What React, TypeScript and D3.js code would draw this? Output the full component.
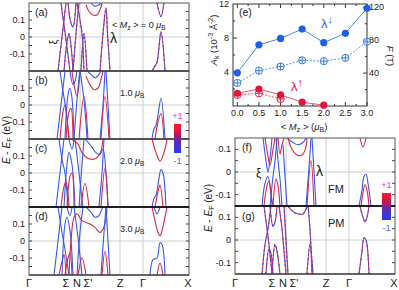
import * as d3 from "d3";

type Pt = [number, number];
type Band = { s: "u" | "d" | "m"; p: Pt[] };

const RED = "#dc2446";
const BLUE = "#3a56f0";
const FONT = "'Liberation Sans', Arial, sans-serif";

// k-path (arbitrary path units) with high-symmetry points
const kTicks = [0, 37, 48, 59, 91, 114, 159];
const kNames = ["Γ", "Σ", "N", "Σ'", "Z", "Γ", "X"];
const kGrid = [51, 91, 114];
const mzLabels = ["0", "1.0", "2.0", "3.0"];
const panelNames = ["(a)", "(b)", "(c)", "(d)"];

// (a) <Mz> = 0
const bandsA: Band[] = [
  { s: "m", p: [[29, -0.2], [33, 0], [37, 0.2]] },
  { s: "m", p: [[32, 0.2], [35, 0.07], [38, -0.06], [41, -0.2]] },
  { s: "m", p: [[35, -0.2], [38, -0.03], [40, 0.02], [42, -0.05], [44, -0.2]] },
  { s: "m", p: [[39, 0.2], [42, 0.08], [44, 0.06], [47, 0.2]] },
  { s: "m", p: [[44, -0.2], [47, 0.02], [50, 0.2]] },
  { s: "m", p: [[48, 0.2], [51, 0.1], [53, 0.02], [55, -0.2]] },
  { s: "m", p: [[52, -0.2], [55, 0.02], [58, -0.2]] },
  { s: "u", p: [[57, 0.19], [60, 0.15], [64, 0.13], [68, 0.13], [71, 0.16], [73, 0.2]] },
  { s: "d", p: [[62, 0.2], [66, 0.18], [70, 0.19], [72, 0.2]] },
  { s: "m", p: [[71, -0.2], [74, 0.02], [77, 0.17], [78.5, 0.02], [81, -0.2]] },
  { s: "m", p: [[128, 0.2], [132, 0.12], [135, 0.2]] },
  { s: "m", p: [[123, -0.2], [126, -0.17], [128, -0.15], [132, 0.03], [136, -0.2]] },
];

// (b) 1.0 uB
const bandsB: Band[] = [
  { s: "d", p: [[28, -0.2], [32, 0], [36, 0.2]] },
  { s: "d", p: [[31, 0.2], [34, 0.08], [37, -0.03], [40, -0.2]] },
  { s: "u", p: [[31, -0.2], [34, -0.04], [36, 0.0], [38, -0.08], [40, -0.2]] },
  { s: "d", p: [[36, -0.2], [39, 0.06], [41, 0.1], [43, 0.04], [45, -0.2]] },
  { s: "u", p: [[37, -0.2], [40, -0.04], [42, -0.02], [44, -0.2]] },
  { s: "d", p: [[41, 0.2], [44, 0.12], [46, 0.14], [48, 0.2]] },
  { s: "u", p: [[43, 0.2], [45, 0.12], [48, 0.05], [51, 0.2]] },
  { s: "d", p: [[45, -0.2], [49, 0.1], [51, 0.2]] },
  { s: "u", p: [[50, -0.2], [55, 0.05], [59, -0.2]] },
  { s: "d", p: [[51, 0.2], [55, 0.03], [58, -0.2]] },
  { s: "d", p: [[58, 0.2], [62, 0.18], [66, 0.16], [70, 0.18], [72, 0.2]] },
  { s: "u", p: [[57, 0.17], [61, 0.12], [65, 0.09], [69, 0.1], [72, 0.15], [74, 0.2]] },
  { s: "d", p: [[71, -0.2], [74, 0.0], [76, 0.2]] },
  { s: "d", p: [[77, 0.2], [79, 0.0], [81, -0.2]] },
  { s: "u", p: [[72, -0.2], [76, 0.05], [80, -0.2]] },
  { s: "d", p: [[123, -0.2], [125, -0.14], [127, -0.12], [129, -0.06], [132, 0.04], [136, -0.2]] },
  { s: "u", p: [[126, -0.2], [129, -0.1], [132, -0.05], [135, -0.2]] },
];

// (c) 2.0 uB
const bandsC: Band[] = [
  { s: "d", p: [[27, -0.2], [31, 0], [35, 0.2]] },
  { s: "d", p: [[30, 0.2], [33, 0.08], [36, 0.0], [39, -0.2]] },
  { s: "u", p: [[32, -0.2], [35, -0.08], [37, -0.05], [40, -0.2]] },
  { s: "d", p: [[35, -0.2], [38, 0.05], [40, 0.12], [43, 0.05], [46, -0.2]] },
  { s: "u", p: [[38, -0.2], [41, -0.02], [43, 0.0], [45, -0.2]] },
  { s: "d", p: [[40, 0.2], [43, 0.14], [45, 0.2]] },
  { s: "u", p: [[41, 0.2], [45, 0.19], [49, 0.17], [53, 0.12], [58, 0.09], [63, 0.08], [68, 0.09], [72, 0.13], [74, 0.2]] },
  { s: "d", p: [[56, 0.2], [62, 0.16], [67, 0.12], [71, 0.11], [74, 0.14], [77, 0.0], [79, -0.2]] },
  { s: "d", p: [[46, 0.2], [50, 0.0], [54, -0.2]] },
  { s: "d", p: [[50, -0.2], [53, 0.05], [55, 0.2]] },
  { s: "u", p: [[52, -0.2], [56, -0.06], [60, -0.2]] },
  { s: "u", p: [[72, -0.2], [76, 0.03], [79, -0.2]] },
  { s: "d", p: [[70, -0.2], [73, 0.0], [75, 0.2]] },
  { s: "u", p: [[123, 0.2], [127, 0.12], [131, 0.07], [135, 0.12], [138, 0.2]] },
  { s: "d", p: [[123, -0.2], [125, -0.15], [127, -0.13], [129, -0.07], [132, 0.02], [134, 0.0], [137, -0.2]] },
  { s: "u", p: [[126, -0.2], [129, -0.11], [131, -0.07], [134, -0.2]] },
];

// (d) 3.0 uB
const bandsD: Band[] = [
  { s: "d", p: [[25, -0.2], [29, 0.0], [33, 0.2]] },
  { s: "d", p: [[29, 0.2], [33, 0.05], [36, -0.05], [40, -0.2]] },
  { s: "u", p: [[30, -0.2], [33, -0.12], [35, -0.08], [37, -0.2]] },
  { s: "d", p: [[33, -0.2], [36, 0.1], [38, 0.14], [41, 0.06], [44, -0.2]] },
  { s: "u", p: [[36, -0.2], [39, -0.1], [41, -0.07], [43, -0.2]] },
  { s: "d", p: [[38, 0.2], [41, 0.15], [43, 0.2]] },
  { s: "u", p: [[40, -0.2], [42, 0.0], [45, 0.14], [48, 0.16], [53, 0.12], [61, 0.1], [66, 0.08], [71, 0.05], [74, 0.07], [77, 0.13], [78, 0.2]] },
  { s: "d", p: [[45, 0.2], [49, 0.02], [53, -0.2]] },
  { s: "d", p: [[48, -0.2], [51, 0.05], [54, 0.2]] },
  { s: "u", p: [[49, -0.2], [53, -0.1], [57, -0.2]] },
  { s: "d", p: [[57, 0.2], [62, 0.17], [66, 0.14], [70, 0.15], [73, 0.19], [74, 0.2]] },
  { s: "d", p: [[72, -0.2], [75, 0.05], [77, 0.2]] },
  { s: "d", p: [[77, 0.2], [79, 0.0], [81, -0.2]] },
  { s: "u", p: [[73, -0.2], [76, -0.06], [79, -0.2]] },
  { s: "u", p: [[123, 0.2], [126, 0.12], [129, 0.05], [131, 0.03], [133, 0.06], [136, 0.14], [138, 0.2]] },
  { s: "d", p: [[125, 0.2], [128, 0.16], [131, 0.2]] },
  { s: "d", p: [[121, -0.2], [124, -0.11], [128, -0.1], [131, -0.01], [133, -0.02], [136, -0.2]] },
  { s: "u", p: [[128, -0.2], [131, -0.13], [134, -0.2]] },
];

// (f) FM
const bandsF: Band[] = [
  { s: "d", p: [[27, -0.15], [30, -0.05], [33, -0.02], [36, -0.1], [38, -0.15]] },
  { s: "u", p: [[29, -0.15], [32, -0.06], [34, -0.04], [37, -0.15]] },
  { s: "d", p: [[28, 0.15], [31, 0.05], [33, 0.0], [35, 0.06], [37, 0.15]] },
  { s: "u", p: [[30, 0.15], [33, 0.07], [35, 0.03], [38, 0.1], [40, 0.15]] },
  { s: "d", p: [[35, -0.15], [38, -0.02], [40, 0.05], [42, 0.15]] },
  { s: "u", p: [[38, -0.15], [41, -0.03], [43, -0.06], [45, -0.15]] },
  { s: "d", p: [[41, 0.15], [43, 0.05], [45, -0.03], [47, -0.15]] },
  { s: "u", p: [[43, 0.15], [45, 0.08], [47, 0.12], [49, 0.15]] },
  { s: "d", p: [[48, 0.12], [50, -0.02], [52, -0.15]] },
  { s: "u", p: [[53, 0.15], [57, 0.1], [62, 0.075], [67, 0.075], [71, 0.11], [72, 0.15]] },
  { s: "d", p: [[52, 0.15], [58, 0.13], [63, 0.12], [68, 0.13], [71, 0.15]] },
  { s: "u", p: [[72, -0.15], [76, 0.05], [79, -0.15]] },
  { s: "d", p: [[71, -0.15], [74, 0.02], [76, 0.15]] },
  { s: "d", p: [[77, 0.15], [79, 0.0], [81, -0.15]] },
  { s: "u", p: [[125, 0.15], [128, 0.11], [131, 0.15]] },
  { s: "d", p: [[124, -0.15], [127, -0.08], [129, -0.02], [131, -0.01], [133, -0.05], [136, -0.15]] },
  { s: "u", p: [[126, -0.15], [128, -0.09], [130, -0.055], [132, -0.08], [134, -0.15]] },
];

// (g) PM
const bandsG: Band[] = [
  { s: "m", p: [[27, -0.15], [30, -0.02], [33, 0.05], [36, 0.15]] },
  { s: "m", p: [[29, 0.15], [32, 0.05], [34, -0.02], [37, -0.15]] },
  { s: "m", p: [[31, -0.15], [34, -0.04], [36, -0.06], [38, -0.15]] },
  { s: "m", p: [[35, 0.15], [38, 0.06], [40, 0.08], [42, 0.15]] },
  { s: "m", p: [[37, -0.15], [40, -0.02], [42, -0.05], [45, -0.15]] },
  { s: "m", p: [[44, 0.15], [47, 0.05], [49, -0.05], [51, -0.15]] },
  { s: "m", p: [[49, 0.15], [51, 0], [53, -0.15]] },
  { s: "m", p: [[53, 0.15], [58, 0.125], [63, 0.115], [68, 0.115], [72, 0.145], [73, 0.15]] },
  { s: "m", p: [[73, 0.15], [75, 0.05], [77, -0.15]] },
  { s: "m", p: [[72, -0.15], [75, -0.02], [78, -0.15]] },
  { s: "m", p: [[125, 0.15], [128, 0.1], [130, 0.08], [132, 0.1], [134, 0.15]] },
  { s: "m", p: [[124, -0.15], [127, -0.05], [129, 0.01], [131, 0.0], [134, -0.15]] },
];

// (e) extremal areas / frequencies vs <Mz>
const mz = [0, 0.5, 1.0, 1.5, 2.0, 2.5, 3.0];
const areaDown = [3.9, 7.2, 7.95, 9.05, 7.45, 8.55, 11.5];
const freqDown = [28, 43, 48, 55.5, 54.5, 58.5, 78];
const mzUp = [0, 0.5, 1.0, 1.5, 2.0];
const areaUp = [1.5, 2.0, 1.3, 0.45, 0.1];
const mzUpF = [0, 0.5, 1.0];
const freqUp = [13.4, 15.4, 8.5];

function Bands({ bands, x, y }: { bands: Band[]; x: any; y: any }) {
  const line = d3
    .line<Pt>()
    .x((d) => x(d[0]))
    .y((d) => y(d[1]))
    .curve(d3.curveCatmullRom.alpha(0.5));
  return (
    <>
      {bands.map((b, i) =>
        b.s === "m" ? (
          <g key={i}>
            <path d={line(b.p) || ""} fill="none" stroke={RED} strokeWidth={1.1} />
            <path d={line(b.p) || ""} fill="none" stroke={BLUE} strokeWidth={1.1} strokeDasharray="2.5,2" />
          </g>
        ) : (
          <path key={i} d={line(b.p) || ""} fill="none" stroke={b.s === "u" ? RED : BLUE} strokeWidth={1.1} />
        )
      )}
    </>
  );
}

function Panel(props: { id: string; left: number; top: number; w: number; h: number; eMax: number; bands: Band[] }) {
  const { id, left, top, w, h, eMax, bands } = props;
  const x = d3.scaleLinear().domain([0, 160]).range([left, left + w]);
  const y = d3.scaleLinear().domain([-eMax, eMax]).range([top + h, top]);
  const minor = [-0.15, -0.1, -0.05, 0, 0.05, 0.1, 0.15].filter((t) => Math.abs(t) < eMax - 0.001);
  const major = [0.1, 0, -0.1];
  return (
    <g>
      <clipPath id={id}>
        <rect x={left} y={top} width={w} height={h} />
      </clipPath>
      <line x1={left} x2={left + w} y1={y(0)} y2={y(0)} stroke="#c8d0d0" strokeWidth={1} />
      {kGrid.map((k) => (
        <line key={k} x1={x(k)} x2={x(k)} y1={top} y2={top + h} stroke="#c8d0d0" strokeWidth={1} />
      ))}
      <g clipPath={`url(#${id})`}>
        <Bands bands={bands} x={x} y={y} />
      </g>
      {minor.map((t) => (
        <g key={t} stroke="#444">
          <line x1={left} x2={left + 3} y1={y(t)} y2={y(t)} />
          <line x1={left + w - 3} x2={left + w} y1={y(t)} y2={y(t)} />
        </g>
      ))}
      {major.map((t) => (
        <text key={t} x={left - 4} y={y(t) + 3} textAnchor="end" fontSize={9} fontFamily={FONT} fill="#222">
          {t === 0 ? "0" : t.toFixed(1)}
        </text>
      ))}
      <rect x={left} y={top} width={w} height={h} fill="none" stroke="#555" strokeWidth={1} />
    </g>
  );
}

function KAxis({ left, w, yPos }: { left: number; w: number; yPos: number }) {
  const x = d3.scaleLinear().domain([0, 160]).range([left, left + w]);
  return (
    <g>
      {kTicks.map((k, i) => (
        <text key={i} x={x(k)} y={yPos} textAnchor="middle" fontSize={11} fontFamily={FONT} fill="#222">
          {kNames[i]}
        </text>
      ))}
    </g>
  );
}

function ColorBar({ x, y, w, h }: { x: number; y: number; w: number; h: number }) {
  return (
    <g>
      <rect x={x} y={y} width={w} height={h} fill="url(#spin)" />
      <text x={x + w / 2} y={y - 5} textAnchor="middle" fontSize={9} fontFamily={FONT} fill="#e03cc8">+1</text>
      <text x={x + w / 2} y={y + h + 11} textAnchor="middle" fontSize={9} fontFamily={FONT} fill="#4a64ff">-1</text>
    </g>
  );
}

function PanelE() {
  const x = d3.scaleLinear().domain([-0.1, 3.0]).range([233, 367]);
  const yL = d3.scaleLinear().domain([0, 12]).range([106, 4]);
  const yR = d3.scaleLinear().domain([0, 124]).range([106, 4]);
  const ln = (xs: number[], ys: number[], s: any) =>
    d3.line<number>().x((_, i) => x(xs[i])).y((d) => s(d))(ys) || "";
  const openC = (cx: number, cy: number, c: string, k: string) => (
    <g key={k} stroke={c} strokeWidth={1} fill="none">
      <circle cx={cx} cy={cy} r={3.6} fill="#fff" fillOpacity={0.6} />
      <line x1={cx - 3.6} x2={cx + 3.6} y1={cy} y2={cy} />
      <line x1={cx} x2={cx} y1={cy - 3.6} y2={cy + 3.6} />
    </g>
  );
  const xt = [0, 0.5, 1.0, 1.5, 2.0, 2.5, 3.0];
  const xm = [0.25, 0.75, 1.25, 1.75, 2.25, 2.75];
  return (
    <g fontFamily={FONT}>
      <rect x={233} y={4} width={134} height={102} fill="none" stroke="#333" />
      {xt.map((t) => (
        <g key={t}>
          <line x1={x(t)} x2={x(t)} y1={106} y2={102} stroke="#333" />
          <line x1={x(t)} x2={x(t)} y1={4} y2={8} stroke="#333" />
          <text x={x(t)} y={116} textAnchor="middle" fontSize={9} fill="#222">{t.toFixed(1)}</text>
        </g>
      ))}
      {xm.map((t) => (
        <g key={t} stroke="#333">
          <line x1={x(t)} x2={x(t)} y1={106} y2={104} />
          <line x1={x(t)} x2={x(t)} y1={4} y2={6} />
        </g>
      ))}
      {[2, 4, 6, 8, 10].map((t) => (
        <line key={t} x1={233} x2={t % 4 === 0 ? 237 : 235} y1={yL(t)} y2={yL(t)} stroke="#333" />
      ))}
      {[4, 8, 12].map((t) => (
        <text key={t} x={229} y={yL(t) + 3} textAnchor="end" fontSize={9} fill="#222">{t}</text>
      ))}
      {[20, 40, 60, 80, 100, 120].map((t) => (
        <line key={t} x1={367} x2={t % 40 === 0 ? 363 : 365} y1={yR(t)} y2={yR(t)} stroke="#333" />
      ))}
      {[40, 80, 120].map((t) => (
        <text key={t} x={369} y={yR(t) + 3} textAnchor="start" fontSize={9} fill="#222">{t}</text>
      ))}
      <path d={ln(mz, freqDown, yR)} fill="none" stroke="#5a90f2" strokeWidth={1} strokeDasharray="2,1.5" />
      <path d={ln(mz, areaDown, yL)} fill="none" stroke="#4a86f0" strokeWidth={1} />
      <path d={ln(mzUpF, freqUp, yR)} fill="none" stroke="#f0506a" strokeWidth={1} strokeDasharray="2,1.5" />
      <path d={ln(mzUp, areaUp, yL)} fill="none" stroke="#f0506a" strokeWidth={1} />
      {freqDown.map((v, i) => openC(x(mz[i]), yR(v), "#3f7cf0", "fd" + i))}
      {areaDown.map((v, i) => (
        <circle key={"ad" + i} cx={x(mz[i])} cy={yL(v)} r={3.6} fill="#1f5ee8" />
      ))}
      {freqUp.map((v, i) => openC(x(mzUpF[i]), yR(v), "#e8284c", "fu" + i))}
      {areaUp.map((v, i) => (
        <circle key={"au" + i} cx={x(mzUp[i])} cy={yL(v)} r={3.6} fill="#e0143c" />
      ))}
      <text x={239} y={16} fontSize={10.5} fill="#222">(e)</text>
      <text x={321} y={28} fontSize={13} fill="#2a62ea">λ<tspan fontSize={11} dy={-5}>↓</tspan></text>
      <text x={291} y={91} fontSize={13} fill="#e0143c">λ<tspan fontSize={11} dy={-5}>↑</tspan></text>
      <text transform="translate(217,40) rotate(-90)" textAnchor="middle" fontSize={9.5} fill="#222">
        <tspan fontStyle="italic">A</tspan>
        <tspan fontSize={7} dy={2}>k</tspan>
        <tspan dy={-2}> (10</tspan>
        <tspan fontSize={7} dy={-4}>-3</tspan>
        <tspan dy={4}> Å</tspan>
        <tspan fontSize={7} dy={-4}>-2</tspan>
        <tspan dy={4}>)</tspan>
      </text>
      <text transform="translate(387,56) rotate(90)" textAnchor="middle" fontSize={9.5} fill="#222">
        <tspan fontStyle="italic">F</tspan> (T)
      </text>
      <text x={304} y={130} textAnchor="middle" fontSize={9.5} fill="#222">
        {"< "}<tspan fontStyle="italic">M</tspan>
        <tspan fontSize={7} dy={2}>z</tspan>
        <tspan dy={-2}>{" > ("}</tspan>
        <tspan fontStyle="italic">μ</tspan>
        <tspan fontSize={7} dy={2}>B</tspan>
        <tspan dy={-2}>)</tspan>
      </text>
    </g>
  );
}

function MuB({ x, y, v }: { x: number; y: number; v: string }) {
  return (
    <text x={x} y={y} fontSize={9} fontFamily={FONT} fill="#222">
      {v === "0" ? (
        <>
          {"< "}<tspan fontStyle="italic">M</tspan>
          <tspan fontSize={7} dy={2}>z</tspan>
          <tspan dy={-2}>{" > = 0 "}</tspan>
        </>
      ) : (
        v + " "
      )}
      <tspan fontStyle="italic">μ</tspan>
      <tspan fontSize={6.5} dy={2}>B</tspan>
    </text>
  );
}

function EAxisTitle({ x, y }: { x: number; y: number }) {
  return (
    <text transform={`translate(${x},${y}) rotate(-90)`} textAnchor="middle" fontSize={10} fontFamily={FONT} fill="#222">
      <tspan fontStyle="italic">E</tspan>
      {" - "}
      <tspan fontStyle="italic">E</tspan>
      <tspan fontSize={7} dy={2}>F</tspan>
      <tspan dy={-2}> (eV)</tspan>
    </text>
  );
}

export default function App() {
  const leftBands = [bandsA, bandsB, bandsC, bandsD];
  const leftTops = [3, 71, 139, 207];
  return (
    <svg width={399} height={290} style={{ position: "absolute", left: 0, top: 0, background: "#fff" }}>
      <defs>
        <linearGradient id="spin" x1="0" y1="0" x2="0" y2="1">
          <stop offset="0%" stopColor="#ff1a2a" />
          <stop offset="35%" stopColor="#c01850" />
          <stop offset="55%" stopColor="#6a2aa8" />
          <stop offset="100%" stopColor="#1e3cff" />
        </linearGradient>
      </defs>

      {leftBands.map((b, i) => (
        <Panel key={i} id={"clipL" + i} left={29} top={leftTops[i]} w={160} h={68} eMax={0.2} bands={b} />
      ))}
      <line x1={29} x2={189} y1={71} y2={71} stroke="#444" strokeWidth={1.5} />
      <line x1={29} x2={189} y1={139} y2={139} stroke="#444" strokeWidth={1.5} />
      <line x1={29} x2={189} y1={207} y2={207} stroke="#000" strokeWidth={1.5} />
      <line x1={29} x2={189} y1={275} y2={275} stroke="#222" strokeWidth={1.2} />
      {panelNames.map((n, i) => (
        <text key={n} x={35} y={leftTops[i] + 13} fontSize={10.5} fontFamily={FONT} fill="#222">{n}</text>
      ))}
      {mzLabels.map((v, i) => (
        <MuB key={v} x={i === 0 ? 112 : 120} y={leftTops[i] + 25} v={v} />
      ))}
      <text transform="translate(57,42) rotate(-90)" textAnchor="middle" fontSize={11} fontFamily={FONT} fill="#222">ξ</text>
      <text x={110} y={43} fontSize={14} fontFamily={FONT} fill="#222">λ</text>
      <ColorBar x={174} y={124} w={7} h={29} />
      <KAxis left={29} w={160} yPos={287} />
      <EAxisTitle x={10} y={140} />

      <PanelE />

      <Panel id="clipF" left={235} top={138} w={160} h={68} eMax={0.15} bands={bandsF} />
      <Panel id="clipG" left={235} top={206} w={160} h={68} eMax={0.15} bands={bandsG} />
      <line x1={235} x2={395} y1={206} y2={206} stroke="#000" strokeWidth={1.5} />
      <line x1={235} x2={395} y1={274} y2={274} stroke="#222" strokeWidth={1.2} />
      <text x={242} y={151} fontSize={10.5} fontFamily={FONT} fill="#222">(f)</text>
      <text x={242} y={220} fontSize={10.5} fontFamily={FONT} fill="#222">(g)</text>
      <text x={256} y={177} fontSize={12} fontFamily={FONT} fill="#222">ξ</text>
      <text x={316} y={176} fontSize={14} fontFamily={FONT} fill="#222">λ</text>
      <text x={328} y={193} fontSize={11} fontFamily={FONT} fill="#222">FM</text>
      <text x={328} y={227} fontSize={11} fontFamily={FONT} fill="#222">PM</text>
      <ColorBar x={382} y={193} w={9} h={27} />
      <KAxis left={235} w={160} yPos={287} />
      <EAxisTitle x={212} y={208} />
    </svg>
  );
}
